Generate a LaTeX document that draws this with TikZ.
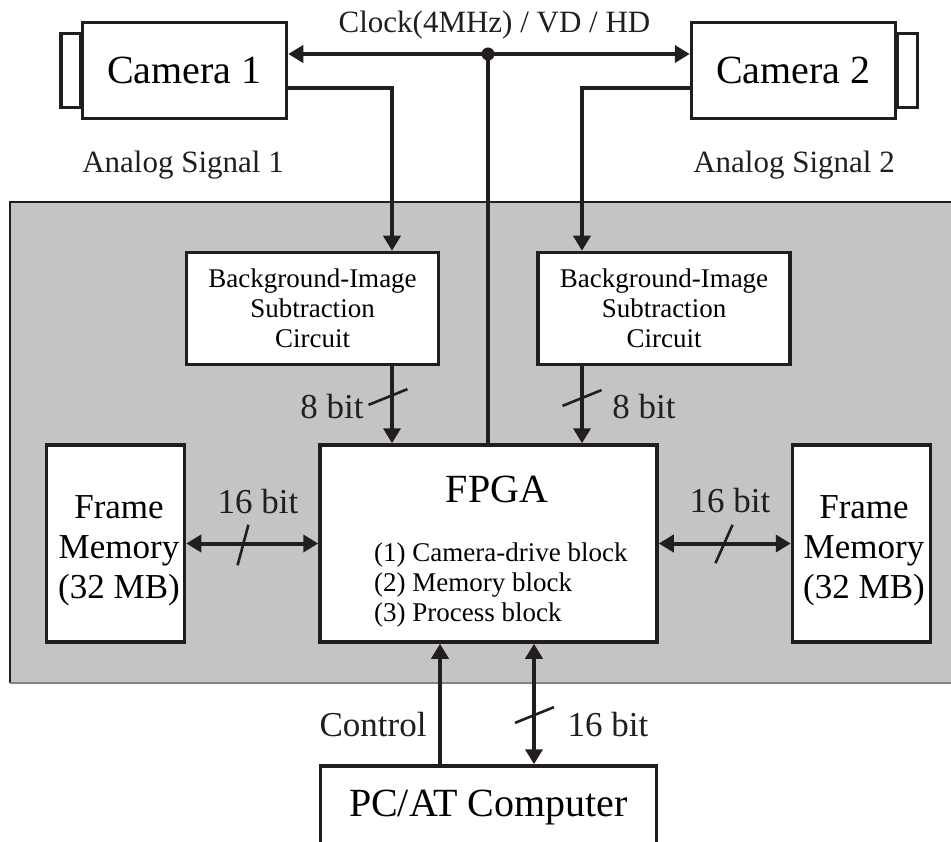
\documentclass[tikz,border=0pt]{standalone}
\usepackage{fontspec}
\setmainfont{Liberation Serif}
\usetikzlibrary{arrows.meta,positioning,calc}
\definecolor{panel}{RGB}{196,196,196}
\definecolor{ink}{RGB}{35,30,30}
\tikzset{
  >={Triangle[length=15pt,width=17pt]},
  box/.style={draw=ink,line width=3.5pt,fill=white,inner sep=0pt,align=center},
  big/.style={font=\fontsize{40}{46}\selectfont},
  mid/.style={font=\fontsize{35}{40}\selectfont},
  small/.style={font=\fontsize{27}{30}\selectfont},
  tag/.style={font=\fontsize{31}{36}\selectfont,inner sep=0pt,anchor=base,text=ink},
  bit/.style={font=\fontsize{35}{40}\selectfont,inner sep=0pt,anchor=base,text=ink},
  flow/.style={line width=4pt,draw=ink},
  % bus width mark
  pics/busmark/.style={code={
    \draw[ink,line width=2.6pt] (-21,0) -- (21,0);
  }},
}
\begin{document}
\begin{tikzpicture}[x=1pt,y=-1pt]
  \useasboundingbox (0,0) rectangle (951,842);
  % grey board
  \fill[panel] (10,202) rectangle (960,683);
  \draw[ink,line width=1.2pt] (960,202) -- (10,202) -- (10,683);
  \draw[ink!55,line width=1.2pt] (10,683) -- (960,683);

  % cameras
  \node[box,big,minimum width=204,minimum height=96] (cam1) at (184.5,70.5) {Camera 1};
  \node[box,big,minimum width=204,minimum height=96] (cam2) at (793.5,70.5) {Camera 2};
  \draw[ink,line width=3.5pt] (cam1.west) ++(0,-37) rectangle ++(-20,74);
  \draw[ink,line width=3.5pt] (cam2.east) ++(0,-37) rectangle ++(20,74);
  \node[tag] (clock) at (494.5,33) {Clock(4MHz) / VD / HD};
  \node[tag] (an1) at (183,173) {Analog Signal 1};
  \node[tag] (an2) at (794,173) {Analog Signal 2};

  % circuits
  \node[box,small,minimum width=252,minimum height=112] (bg1) at (312.5,308.5) {Background-Image\\Subtraction\\Circuit};
  \node[box,small,minimum width=252,minimum height=112] (bg2) at (664,308.5) {Background-Image\\Subtraction\\Circuit};
  \node[box,minimum width=337,minimum height=197] (fpga) at (488.5,543.5) {};
  \node[big,inner sep=0pt,anchor=base] (fpganame) at (497,502) {FPGA};
  \node[small,inner sep=0pt,align=left,anchor=north west] (blocks) at (374,543)
    {(1) Camera-drive block\\(2) Memory block\\(3) Process block};
  \node[box,minimum width=138,minimum height=197] (fm1) at (115.5,543.5) {};
  \node[box,minimum width=138,minimum height=197] (fm2) at (861.5,543.5) {};
  \node[mid,inner sep=0pt,align=center] (fm1txt) at (119,551) {Frame\\Memory\\(32 MB)};
  \node[mid,inner sep=0pt,align=center] (fm2txt) at (864,551) {Frame\\Memory\\(32 MB)};
  \node[box,big,minimum width=336,minimum height=84] (pc) at (488.5,808) {PC/AT Computer};

  % signals
  \coordinate (clk) at (488,54);
  \coordinate (sig1) at (392,88);
  \coordinate (sig2) at (582,88);
  \coordinate (ctl) at (440,0);
  \coordinate (hostbus) at (534,0);
  \draw[flow,<->] (cam1.east |- clk) -- (cam2.west |- clk);
  \fill[ink] (clk) circle (6.5);
  \draw[flow] (clk) -- (clk |- fpga.north);
  \draw[flow,->] (cam1.east |- sig1) -| (sig1 |- bg1.north);
  \draw[flow,->] (cam2.west |- sig2) -| (sig2 |- bg2.north);
  \draw[flow,->] (sig1 |- bg1.south) -- (sig1 |- fpga.north);
  \draw[flow,->] (sig2 |- bg2.south) -- (sig2 |- fpga.north);
  \draw[flow,<->] (fm1) -- (fpga);
  \draw[flow,<->] (fpga) -- (fm2);
  \draw[flow,->] (ctl |- pc.north) -- (ctl |- fpga.south);
  \draw[flow,<->] (hostbus |- pc.north) -- (hostbus |- fpga.south);

  % bus widths
  \pic[rotate=22] at (388,397) {busmark};
  \pic[rotate=22] at (582,398) {busmark};
  \pic[rotate=75] at (243,545) {busmark};
  \pic[rotate=66] at (724,544) {busmark};
  \pic[rotate=22] at (534.5,715) {busmark};
  \node[bit] (bit8a) at (332,418) {8 bit};
  \node[bit] (bit8b) at (644,418) {8 bit};
  \node[bit] (bit16a) at (258,513) {16 bit};
  \node[bit] (bit16b) at (730,512) {16 bit};
  \node[bit] (bit16c) at (608,736) {16 bit};
  \node[bit] (ctltxt) at (373,736) {Control};
\end{tikzpicture}
\end{document}
